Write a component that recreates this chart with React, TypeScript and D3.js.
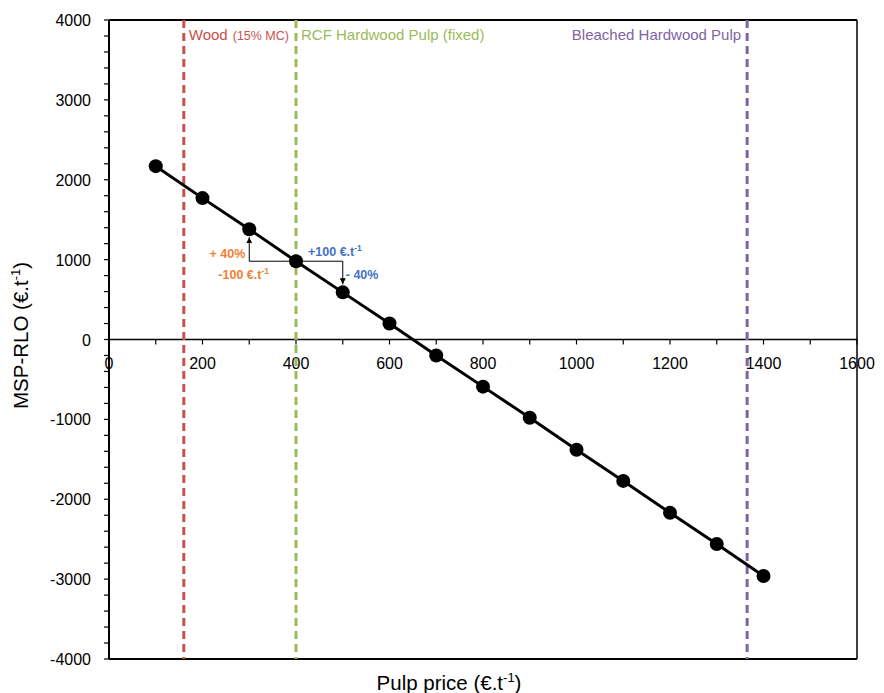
import React from "react";
import * as d3 from "d3";

const pulpPrice = [100, 200, 300, 400, 500, 600, 700, 800, 900, 1000, 1100, 1200, 1300, 1400];
const mspRlo = [2170, 1770, 1380, 980, 590, 200, -200, -590, -980, -1380, -1770, -2170, -2560, -2960];
const xTicks = [0, 200, 400, 600, 800, 1000, 1200, 1400, 1600];
const yTicks = [-4000, -3000, -2000, -1000, 0, 1000, 2000, 3000, 4000];
const refLines = [
  { value: 160, color: "#C9504D", label: "Wood", sub: "(15% MC)", anchor: "start" },
  { value: 400, color: "#9BBB59", label: "RCF Hardwood Pulp (fixed)", sub: "", anchor: "start" },
  { value: 1365, color: "#8064A2", label: "Bleached Hardwood Pulp", sub: "", anchor: "end" },
];

const W = 884, H = 693;
const L = 109, R = 857, T = 20, B = 659;
const font = "'Liberation Sans', Arial, sans-serif";

export default function App() {
  const x = d3.scaleLinear().domain([0, 1600]).range([L, R]);
  const y = d3.scaleLinear().domain([-4000, 4000]).range([B, T]);
  const line = d3.line<number>().x((_, i) => x(pulpPrice[i])).y((d) => y(d));
  const xMinor = d3.range(0, 1601, 100);
  const yMinor = d3.range(-4000, 4001, 200);
  const y0 = y(0);
  const orange = "#F07F35";
  const blue = "#4472C4";
  const ax3 = x(pulpPrice[2]), ax4 = x(pulpPrice[3]), ax5 = x(pulpPrice[4]);
  const yBase = y(mspRlo[3]);
  return (
    <svg width={W} height={H} style={{ position: "absolute", left: 0, top: 0, fontFamily: font }}>
      <defs>
        <marker id="ah" viewBox="0 0 10 10" refX="10" refY="5" markerWidth="6" markerHeight="6" orient="auto">
          <path d="M0,0 L10,5 L0,10 z" fill="#000" />
        </marker>
      </defs>
      <rect x={0} y={0} width={W} height={H} fill="#fff" />
      {/* frame */}
      <line x1={L} x2={R} y1={T} y2={T} stroke="#000" strokeWidth={2} />
      <line x1={R} x2={R} y1={T} y2={B} stroke="#000" strokeWidth={1.5} />
      <line x1={L} x2={R} y1={B} y2={B} stroke="#000" strokeWidth={2} />
      <line x1={L} x2={L} y1={T} y2={B} stroke="#000" strokeWidth={2} />
      {/* x axis at zero */}
      <line x1={L} x2={R} y1={y0} y2={y0} stroke="#000" strokeWidth={1.5} />
      {xMinor.map((v) => (
        <line key={"xm" + v} x1={x(v)} x2={x(v)} y1={y0} y2={y0 + 5} stroke="#000" strokeWidth={1.2} />
      ))}
      {xTicks.map((v) => (
        <text key={"xt" + v} x={x(v)} y={y0 + 29} textAnchor="middle" fontSize={16} fill="#000">
          {v}
        </text>
      ))}
      {yMinor.map((v) => (
        <line key={"ym" + v} x1={L - 5} x2={L} y1={y(v)} y2={y(v)} stroke="#000" strokeWidth={1.2} />
      ))}
      {yTicks.map((v) => (
        <text key={"yt" + v} x={L - 18} y={y(v) + 6} textAnchor="end" fontSize={16} fill="#000">
          {v}
        </text>
      ))}
      {/* reference lines */}
      {refLines.map((r) => (
        <g key={r.label}>
          <line x1={x(r.value)} x2={x(r.value)} y1={T} y2={B} stroke={r.color} strokeWidth={3} strokeDasharray="8,5" />
          <text
            x={r.anchor === "start" ? x(r.value) + 5 : x(r.value) - 6}
            y={40}
            textAnchor={r.anchor as any}
            fontSize={15}
            fill={r.color}
          >
            {r.label}
            {r.sub ? <tspan fontSize={12.5} dx={5}>{r.sub}</tspan> : null}
          </text>
        </g>
      ))}
      {/* series */}
      <path d={line(mspRlo) || ""} fill="none" stroke="#000" strokeWidth={3} />
      {mspRlo.map((v, i) => (
        <circle key={"p" + i} cx={x(pulpPrice[i])} cy={y(v)} r={7} fill="#000" />
      ))}
      {/* annotations */}
      <path d={`M${ax4},${yBase} L${ax3},${yBase} L${ax3},${y(mspRlo[2]) + 8}`} fill="none" stroke="#000" strokeWidth={1} markerEnd="url(#ah)" />
      <path d={`M${ax4},${yBase} L${ax5},${yBase} L${ax5},${y(mspRlo[4]) - 8}`} fill="none" stroke="#000" strokeWidth={1} markerEnd="url(#ah)" />
      <text x={ax3 - 4} y={258} textAnchor="end" fontSize={12.5} fontWeight="bold" fill={orange}>+ 40%</text>
      <text x={ax4 - 27} y={279} textAnchor="end" fontSize={12.5} fontWeight="bold" fill={orange}>
        -100 €.t<tspan fontSize={8.5} dy={-5}>-1</tspan>
      </text>
      <text x={308} y={256} fontSize={12.5} fontWeight="bold" fill={blue}>
        +100 €.t<tspan fontSize={8.5} dy={-5}>-1</tspan>
      </text>
      <text x={ax5 + 3} y={279} fontSize={12.5} fontWeight="bold" fill={blue}>- 40%</text>
      {/* axis titles */}
      <text x={449} y={690} textAnchor="middle" fontSize={20.5} fill="#000">
        Pulp price (€.t<tspan fontSize={13} dy={-8}>-1</tspan><tspan dy={8}>)</tspan>
      </text>
      <text transform={`translate(28,${(T + B) / 2 - 4}) rotate(-90)`} textAnchor="middle" fontSize={20.5} fill="#000">
        MSP-RLO (€.t<tspan fontSize={13} dy={-8}>-1</tspan><tspan dy={8}>)</tspan>
      </text>
    </svg>
  );
}
